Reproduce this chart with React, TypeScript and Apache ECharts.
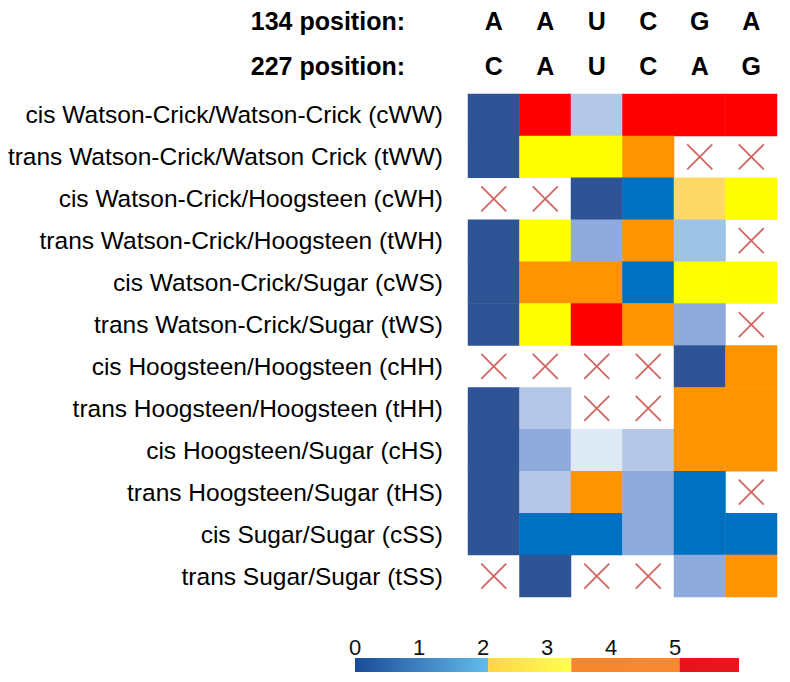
import React, { useEffect, useRef } from "react";
import * as echarts from "echarts";

const pos134 = ["A", "A", "U", "C", "G", "A"];
const pos227 = ["C", "A", "U", "C", "A", "G"];
const families = [
  "cis Watson-Crick/Watson-Crick (cWW)",
  "trans Watson-Crick/Watson Crick (tWW)",
  "cis Watson-Crick/Hoogsteen (cWH)",
  "trans Watson-Crick/Hoogsteen (tWH)",
  "cis Watson-Crick/Sugar (cWS)",
  "trans Watson-Crick/Sugar (tWS)",
  "cis Hoogsteen/Hoogsteen (cHH)",
  "trans Hoogsteen/Hoogsteen (tHH)",
  "cis Hoogsteen/Sugar (cHS)",
  "trans Hoogsteen/Sugar (tHS)",
  "cis Sugar/Sugar (cSS)",
  "trans Sugar/Sugar (tSS)",
];
// null = not observed (red cross)
const values: (number | null)[][] = [
  [0.2, 5.5, 1.5, 5.5, 5.5, 5.5],
  [0.2, 3.0, 3.0, 4.2, null, null],
  [null, null, 0.2, 0.6, 2.2, 3.0],
  [0.2, 3.0, 1.0, 4.2, 1.3, null],
  [0.2, 4.2, 4.2, 0.6, 3.0, 3.0],
  [0.2, 3.0, 5.5, 4.2, 1.0, null],
  [null, null, null, null, 0.2, 4.2],
  [0.2, 1.5, null, null, 4.2, 4.2],
  [0.2, 1.0, 1.9, 1.5, 4.2, 4.2],
  [0.2, 1.5, 4.2, 1.0, 0.6, null],
  [0.2, 0.6, 0.6, 1.0, 0.6, 0.6],
  [null, 0.2, null, null, 1.0, 4.2],
];
const levelBounds = [0, 0.4, 0.8, 1.2, 1.45, 1.7, 2.08, 2.6, 3.38, 5.07, 6];
const levelColors = [
  "#2E5496", "#0070C0", "#8FAADC", "#9DC3E6", "#B4C7E7", "#DEEAF6",
  "#FFD966", "#FFFF00", "#FF9300", "#FF0000",
];
const scaleTicks = [0, 1, 2, 3, 4, 5];
const scaleSegments = [2.08, 1.3, 1.69, 0.93];
const scaleColors = [
  ["#1A4B98", "#62BCEC"],
  ["#FFD447", "#FFFF4D"],
  ["#F7862A", "#FA8A30"],
  ["#E3141B", "#E8171E"],
];

const FONT = "'Liberation Sans', Arial, sans-serif";

export default function App() {
  const ref = useRef<HTMLDivElement>(null);
  useEffect(() => {
    document.body.style.margin = "0";
    const chart = echarts.init(ref.current!, null, { renderer: "svg" });
    const cells: any[] = [];
    const crosses: any[] = [];
    values.forEach((row, r) =>
      row.forEach((v, c) => {
        if (v === null) crosses.push([c, r]);
        else cells.push([c, r, v]);
      })
    );
    const pieces = levelColors.map((color, i) => ({
      gte: levelBounds[i],
      lt: levelBounds[i + 1],
      color,
    }));
    const topAxis = (data: string[], name: string, offset: number) => ({
      type: "category",
      gridIndex: 0,
      position: "top",
      offset,
      data,
      name,
      nameLocation: "start",
      nameGap: 63,
      nameTextStyle: { fontFamily: FONT, fontSize: 25, fontWeight: "bold", color: "#000", align: "right", verticalAlign: "middle" },
      axisLine: { show: false },
      axisTick: { show: false },
      splitLine: { show: false },
      axisLabel: { margin: 0, verticalAlign: "middle", fontFamily: FONT, fontSize: 25, fontWeight: "bold", color: "#000" },
    });
    chart.setOption({
      animation: false,
      backgroundColor: "#fff",
      grid: [
        { left: 468, top: 94, width: 309, height: 503 },
        { left: 355, top: 658, width: 384, height: 14 },
      ],
      xAxis: [
        topAxis(pos134, "134 position:", 73),
        topAxis(pos227, "227 position:", 28),
        {
          type: "value",
          gridIndex: 1,
          position: "top",
          min: 0,
          max: 6,
          interval: 1,
          axisLine: { show: false },
          axisTick: { show: false },
          splitLine: { show: false },
          axisLabel: {
            margin: 0,
            color: "#111",
            formatter: (v: number) => (scaleTicks.includes(v) ? "{d|" + v + "}" : ""),
            rich: { d: { fontFamily: FONT, fontSize: 22, color: "#111" } },
          },
        },
      ],
      yAxis: [
        {
          type: "category",
          gridIndex: 0,
          inverse: true,
          data: families,
          axisLine: { show: false },
          axisTick: { show: false },
          splitLine: { show: false },
          axisLabel: { margin: 25, fontFamily: FONT, fontSize: 24.5, color: "#000" },
        },
        { type: "category", gridIndex: 1, data: ["scale"], show: false },
      ],
      visualMap: {
        type: "piecewise",
        show: false,
        seriesIndex: 0,
        dimension: 2,
        pieces,
      },
      series: [
        {
          type: "heatmap",
          xAxisIndex: 0,
          yAxisIndex: 0,
          data: cells,
          itemStyle: { borderWidth: 0 },
          emphasis: { disabled: true },
        },
        {
          type: "scatter",
          xAxisIndex: 0,
          yAxisIndex: 0,
          data: crosses,
          symbol: "path://M0,0L10,10M10,0L0,10",
          symbolSize: 25,
          itemStyle: { color: "rgba(0,0,0,0)", borderColor: "#C43E3A", borderWidth: 1.8 },
          emphasis: { disabled: true },
        },
        ...scaleSegments.map((w, i) => ({
          type: "bar",
          xAxisIndex: 2,
          yAxisIndex: 1,
          stack: "scale",
          barWidth: "100%",
          data: [w],
          itemStyle: {
            color: new echarts.graphic.LinearGradient(0, 0, 1, 0, [
              { offset: 0, color: scaleColors[i][0] },
              { offset: 1, color: scaleColors[i][1] },
            ]),
          },
          emphasis: { disabled: true },
        })),
      ],
    });
    return () => chart.dispose();
  }, []);
  return <div ref={ref} style={{ width: 790, height: 682 }} />;
}
